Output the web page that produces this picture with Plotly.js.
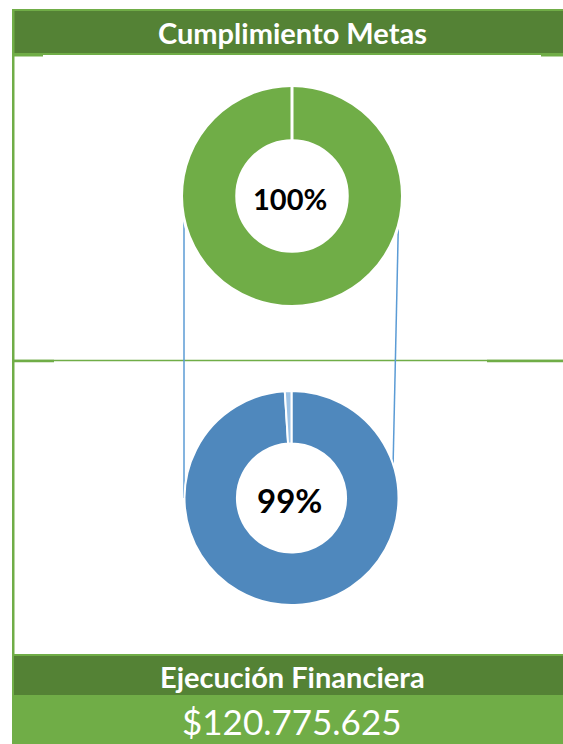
<!DOCTYPE html>
<html>
<head>
<meta charset="utf-8">
<script src="https://cdn.plot.ly/plotly-3.0.1.min.js"></script>
<style>html,body{margin:0;padding:0;background:#fff;}#chart{width:563px;height:744px;}</style>
</head>
<body>
<div id="chart"></div>
<script>
// ---- data ----
var titleTop = "Cumplimiento Metas";
var titleBottom = "Ejecución Financiera";
var financialValue = "$120.775.625";
var metasLabels = ["Cumplido", "Pendiente"];
var metasValues = [100, 0];
var metasText = "100%";
var ejecLabels = ["Ejecutado", "Pendiente"];
var ejecValues = [99, 1];
var ejecText = "99%";

// ---- helpers (pixel -> paper) ----
var W = 563, H = 744;
function px(x){ return x / W; }
function py(y){ return 1 - y / H; }

var darkGreen = "#548235", lightGreen = "#70AD47", blue = "#4F88BD", lineBlue = "#5B9BD5";

function dom(cx, cy, r){
  return {x:[px(cx - r), px(cx + r)], y:[py(cy + r), py(cy - r)]};
}

var data = [
  {
    type: "pie", labels: metasLabels, values: metasValues, sort: false, direction: "clockwise",
    hole: 0.50, domain: dom(292, 196, 110.5), textinfo: "none", hoverinfo: "label+percent",
    marker: {colors: [lightGreen, lightGreen], line: {color: "#ffffff", width: 3}}, showlegend: false
  },
  {
    type: "pie", labels: ejecLabels, values: ejecValues, sort: false, direction: "clockwise",
    hole: 0.51, domain: dom(291.5, 498, 107), textinfo: "none", hoverinfo: "label+percent",
    marker: {colors: [blue, "#9DC3E6"], line: {color: "#ffffff", width: 2}}, showlegend: false
  }
];

function rect(x0, y0, x1, y1, fill){
  return {type:"rect", xref:"paper", yref:"paper", x0:px(x0), x1:px(x1), y0:py(y1), y1:py(y0),
    fillcolor: fill, line:{width:0}, layer:"below"};
}
function hline(x0, x1, y, w, c){
  return {type:"line", xref:"paper", yref:"paper", x0:px(x0), x1:px(x1), y0:py(y), y1:py(y),
    line:{color:c, width:w}, layer:"below"};
}
function seg(x0, y0, x1, y1, w, c){
  return {type:"line", xref:"paper", yref:"paper", x0:px(x0), x1:px(x1), y0:py(y0), y1:py(y1),
    line:{color:c, width:w}, layer:"below"};
}

var shapes = [
  // header
  rect(12, 9, 563, 55, lightGreen),
  rect(14, 11, 563, 53, darkGreen),
  hline(12, 43, 55.5, 2, lightGreen),
  hline(541, 563, 55.5, 2, lightGreen),
  // left border
  rect(12, 9, 14.5, 744, lightGreen),
  // middle separator
  hline(12, 563, 360.5, 1.5, lightGreen),
  hline(12, 54, 361, 2.5, lightGreen),
  hline(487, 563, 361, 2.5, lightGreen),
  // connectors
  seg(184, 196, 184, 498, 1.5, lineBlue),
  seg(399, 195, 392.5, 492, 1.5, lineBlue),
  // bottom bars
  rect(12, 654, 563, 656, lightGreen),
  rect(14, 656, 563, 695, darkGreen),
  rect(12, 695, 563, 744, lightGreen)
];

var font = "Lato, 'Noto Sans', sans-serif";
var annotations = [
  {text: "<b>" + titleTop + "</b>", xref:"paper", yref:"paper", x: px(292), y: py(33), showarrow:false,
   font:{family:font, size:29, color:"#ffffff"}, xanchor:"center", yanchor:"middle"},
  {text: "<b>" + metasText + "</b>", xref:"paper", yref:"paper", x: px(290), y: py(198), showarrow:false,
   font:{family:font, size:29, color:"#000000"}, xanchor:"center", yanchor:"middle"},
  {text: "<b>" + ejecText + "</b>", xref:"paper", yref:"paper", x: px(289), y: py(500), showarrow:false,
   font:{family:font, size:33, color:"#000000"}, xanchor:"center", yanchor:"middle"},
  {text: "<b>" + titleBottom + "</b>", xref:"paper", yref:"paper", x: px(292), y: py(676), showarrow:false,
   font:{family:font, size:29, color:"#ffffff"}, xanchor:"center", yanchor:"middle"},
  {text: financialValue, xref:"paper", yref:"paper", x: px(292), y: py(721), showarrow:false,
   font:{family:font, size:35, color:"#ffffff"}, xanchor:"center", yanchor:"middle"}
];

var layout = {
  width: W, height: H, margin: {l:0, r:0, t:0, b:0, pad:0},
  paper_bgcolor: "#ffffff", plot_bgcolor: "#ffffff",
  showlegend: false, shapes: shapes, annotations: annotations
};

Plotly.newPlot("chart", data, layout, {displayModeBar: false, staticPlot: true});
</script>
</body>
</html>
